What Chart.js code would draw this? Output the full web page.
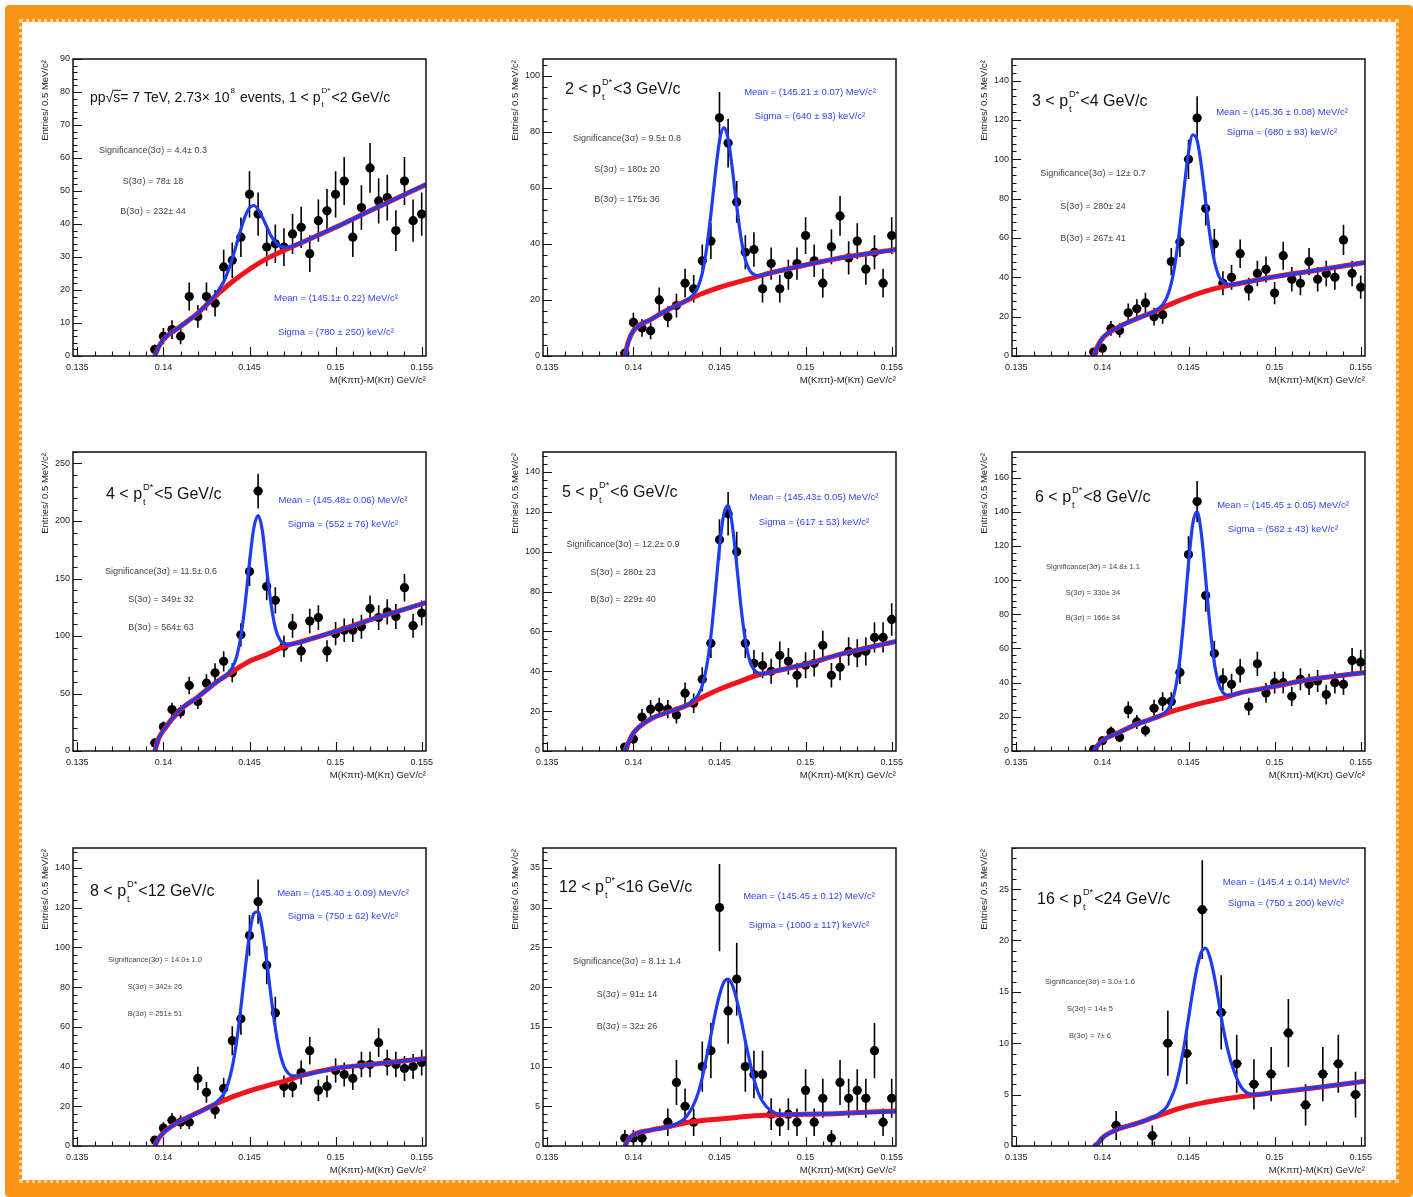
<!DOCTYPE html>
<html>
<head>
<meta charset="utf-8">
<title>D*+ signal in pT bins</title>
<script src="https://cdn.jsdelivr.net/npm/chart.js@4.4.1/dist/chart.umd.min.js"></script>
<style>
  body { margin: 0; background: #fff; }
  #page { position: relative; width: 1413px; height: 1197px; overflow: hidden; background: #fff; }
  .border { position: absolute; left: 5px; top: 5px; width: 1408px; height: 1192px; box-sizing: border-box;
            border: 17px solid #fb9515; border-radius: 4px; }
  .border::after { content: ''; position: absolute; left: -3px; top: -3px; right: -3px; bottom: -3px;
                   border: 3px dotted #fff; opacity: 0.55; }
  canvas { position: absolute; }
</style>
</head>
<body>
<div id="page"><div class="border"></div></div>
<script>
// bin centres, GeV/c^2
const binX = [0.1395, 0.1400, 0.1405, 0.1410, 0.1415, 0.1420, 0.1425, 0.1430, 0.1435, 0.1440, 0.1445, 0.1450,
              0.1455, 0.1460, 0.1465, 0.1470, 0.1475, 0.1480, 0.1485, 0.1490, 0.1495, 0.1500, 0.1505, 0.1510,
              0.1515, 0.1520, 0.1525, 0.1530, 0.1535, 0.1540, 0.1545, 0.1550];
const binX9 = [0.1408, 0.1429, 0.1438, 0.1449, 0.1458, 0.1469, 0.1478, 0.1488, 0.1498, 0.1508, 0.1518, 0.1528, 0.1537, 0.1547];

const fitX = [0.1395, 0.1397, 0.1400, 0.1410, 0.1420, 0.1430, 0.1435, 0.14375, 0.1440, 0.14425, 0.1445, 0.14475,
              0.1450, 0.14525, 0.1455, 0.14575, 0.1460, 0.14625, 0.1465, 0.14675, 0.1470, 0.14725, 0.1475,
              0.1480, 0.1485, 0.1490, 0.1500, 0.1520, 0.15525];
const bkgX = [0.1395, 0.1397, 0.1400, 0.1410, 0.1420, 0.1430, 0.1440, 0.1450, 0.1460, 0.1470, 0.1480, 0.1500, 0.1520, 0.15525];

const xTicks = [0.135, 0.14, 0.145, 0.15, 0.155];
const xTickLabels = ['0.135', '0.14', '0.145', '0.15', '0.155'];

const yTicks1 = [0, 10, 20, 30, 40, 50, 60, 70, 80, 90];
const yTicks2 = [0, 20, 40, 60, 80, 100];
const yTicks3 = [0, 20, 40, 60, 80, 100, 120, 140];
const yTicks4 = [0, 50, 100, 150, 200, 250];
const yTicks5 = [0, 20, 40, 60, 80, 100, 120, 140];
const yTicks6 = [0, 20, 40, 60, 80, 100, 120, 140, 160];
const yTicks7 = [0, 20, 40, 60, 80, 100, 120, 140];
const yTicks8 = [0, 5, 10, 15, 20, 25, 30, 35];
const yTicks9 = [0, 5, 10, 15, 20, 25];
const yMax = [90, 106, 151, 260, 150, 175, 150, 37.5, 29];

// entries per bin
const counts1 = [2, 6, 8, 6, 18, 12, 18, 16, 27, 29, 36, 49, 43, 33, 34, 33, 37, 39, 31, 41, 44, 49, 53, 36, 45, 57, 47, 48, 38, 53, 41, 43];
const counts2 = [1, 12, 10, 9, 20, 14, 18, 26, 24, 34, 41, 85, 76, 55, 37, 38, 24, 33, 24, 29, 33, 43, 34, 26, 39, 50, 35, 41, 31, 37, 26, 43];
const counts3 = [2, 4, 14, 13, 22, 24, 27, 20, 21, 48, 58, 100, 121, 75, 57, 37, 40, 52, 34, 42, 44, 32, 51, 39, 37, 48, 39, 42, 40, 59, 42, 35];
const counts4 = [7, 21, 36, 34, 57, 43, 59, 68, 78, 68, 101, 156, 226, 143, 131, 91, 109, 87, 113, 116, 87, 102, 105, 105, 108, 124, 116, 121, 117, 142, 109, 120];
const counts5 = [2, 6, 17, 21, 22, 21, 18, 29, 24, 36, 54, 106, 119, 100, 54, 44, 43, 40, 48, 45, 38, 43, 44, 53, 38, 42, 50, 49, 50, 57, 57, 66];
const counts6 = [1, 6, 11, 8, 24, 17, 12, 25, 29, 29, 46, 115, 146, 91, 57, 42, 39, 47, 26, 51, 34, 40, 40, 32, 42, 39, 41, 33, 40, 39, 53, 52];
const counts7 = [3, 9, 13, 12, 12, 34, 27, 18, 29, 53, 64, 106, 123, 91, 67, 30, 30, 37, 48, 28, 30, 38, 36, 34, 41, 41, 52, 42, 41, 39, 40, 42];
const counts8 = [1, 1, 1, null, null, 3, 8, 5, 3, 10, 12, 30, 17, 21, 10, 9, 9, 4, 3, 4, 3, 7, 3, 6, 1, 8, 6, 7, 6, 12, 3, 6];
const counts9 = [2, 1, 10, 9, 23, 13, 8, 6, 7, 11, 4, 7, 8, 5];

// total fit (blue), read at fitX
const fit1 = [0, 2.5, 5, 9, 13, 18.5, 22.5, 25.6, 29.5, 33.9, 38.4, 42.4, 44.9, 45.6, 44.4, 42, 39.2, 36.4, 34.6, 33.4, 33, 33, 33.4, 34.3, 35.5, 36.7, 39, 44, 52];
const fit2 = [0, 5, 9, 13, 16.5, 19.6, 22.0, 24.6, 29.6, 38.3, 50.6, 64.7, 76.7, 81.5, 77.6, 66.6, 53.5, 42.1, 34.4, 30.6, 29.1, 28.7, 28.9, 29.7, 30.4, 31.1, 32.5, 35, 38];
const fit3 = [0, 4.5, 9, 15, 19, 22.6, 26.1, 29.9, 36.9, 48.7, 65.8, 85.7, 103.5, 112.5, 109.6, 96.5, 78.3, 61, 48.3, 40.9, 37.7, 36.5, 36.3, 37, 37.8, 38.6, 40.3, 43, 47.5];
const fit4 = [0, 10, 18, 36, 47, 59, 64.2, 67.4, 72.5, 81.9, 99.7, 128.4, 164, 193.9, 204.8, 191.4, 158, 128, 107, 97, 93.6, 92.7, 93.1, 95, 97.3, 99.5, 104, 114, 129];
const fit5 = [0, 4, 9, 16, 19.5, 22.5, 25.4, 28, 32.9, 42.1, 57.6, 79, 102.2, 118.9, 123.1, 112.9, 93.3, 72.1, 55.6, 45.5, 40.8, 39.1, 38.8, 39.6, 40.6, 41.6, 43.5, 48.5, 55];
const fit6 = [0, 3, 6, 11, 15.7, 19.2, 21.5, 23.5, 28, 37, 54, 79.8, 109.6, 133.1, 139.9, 126.9, 100.7, 72.8, 51.7, 39.6, 34.2, 32.7, 32.7, 34, 35, 35.9, 37.8, 41.8, 46];
const fit7 = [0, 3.5, 6.7, 12.6, 16.8, 21.4, 26.1, 31.3, 39.8, 52.6, 69.8, 89.1, 106.4, 117, 117.9, 108.8, 93, 75.2, 59.3, 47.4, 40.1, 36.6, 35.3, 35.5, 36.3, 37.2, 39.1, 41, 44];
const fit8 = [0, 0.8, 1.4, 2, 2.4, 3.5, 5.2, 6.6, 8.6, 11.2, 13.9, 16.7, 19, 20.6, 21, 20.2, 18.4, 16, 13.2, 10.7, 8.4, 6.7, 5.6, 4.4, 4.0, 3.95, 4.0, 4.1, 4.35];
const fit9 = [0, 0.2, 0.8, 1.7, 2.2, 2.85, 3.4, 3.85, 4.7, 5.8, 7.55, 9.8, 12.4, 15.1, 17.4, 18.9, 19.25, 18.3, 16.5, 14.1, 11.6, 9.6, 8.0, 5.9, 5.1, 5.0, 5.2, 5.6, 6.3];

// background fit (red), read at bkgX
const bkg1 = [0, 2.5, 5, 9, 13, 18, 22.5, 26.3, 29.5, 32, 34.3, 39, 44, 52];
const bkg2 = [0, 5, 9, 13, 16.5, 19.5, 22.3, 24.5, 26.3, 28, 29.7, 32.5, 35, 38];
const bkg3 = [0, 4.5, 9, 15, 19, 22.5, 26.5, 30, 33, 35.3, 37, 40.3, 43, 47.5];
const bkg4 = [0, 10, 18, 36, 47, 59, 69, 78, 84, 91, 95, 104, 114, 129];
const bkg5 = [0, 4, 9, 16, 19.5, 22.5, 27, 31, 34.3, 37.5, 39.6, 43.5, 48.5, 55];
const bkg6 = [0, 3, 6, 11, 15.7, 19.2, 23, 26, 28.6, 31, 34, 37.8, 41.8, 46];
const bkg7 = [0, 3.5, 6.7, 12.6, 16.8, 21, 24.7, 27.8, 30.3, 32.5, 35.4, 39.1, 41, 44];
const bkg8 = [0, 0.8, 1.4, 2, 2.4, 2.9, 3.2, 3.4, 3.6, 3.8, 3.9, 4.0, 4.1, 4.4];
const bkg9 = [0, 0.2, 0.8, 1.7, 2.2, 2.8, 3.4, 3.9, 4.25, 4.55, 4.8, 5.2, 5.6, 6.3];

// text in each pad
const ptLow = ['1', '2', '3', '4', '5', '6', '8', '12', '16'];
const ptHigh = ['2', '3', '4', '5', '6', '8', '12', '16', '24'];
const meanTxt = ['145.1± 0.22', '145.21 ± 0.07', '145.36 ± 0.08', '145.48± 0.06', '145.43± 0.05',
                 '145.45 ± 0.05', '145.40 ± 0.09', '145.45 ± 0.12', '145.4 ± 0.14'];
const sigmaTxt = ['780 ± 250', '640 ± 93', '680 ± 93', '552 ± 76', '617 ± 53', '582 ± 43', '750 ± 62', '1000 ± 117', '750 ± 200'];
const signifTxt = ['4.4± 0.3', '9.5± 0.8', '12± 0.7', '11.5± 0.6', '12.2± 0.9', '14.8± 1.1', '14.0± 1.0', '8.1± 1.4', '3.0± 1.6'];
const sigTxt = ['78± 18', '180± 20', '280± 24', '349± 32', '280± 23', '330± 34', '342± 26', '91± 14', '14± 5'];
const bkgTxt = ['232± 44', '175± 36', '267± 41', '564± 63', '229± 40', '166± 34', '251± 51', '32± 26', '7± 6'];

// ---- layout (pixels) ----
const FONT = '"Liberation Sans", Arial, sans-serif';
const colLeft = [73, 543, 1012];
const rowTop = [59, 452, 848];
const rowH = [297, 299, 298];
const padW = 353;
// offsets inside the frame: [x, y]
const titlePos = [[17, 39], [22, 31], [20, 43], [33, 43], [19, 41], [23, 46], [17, 44], [16, 40], [25, 52]];
const titleSize = [14, 16, 16, 16, 16, 16, 16, 16, 16];
const statsPos = [[80, 92, 30.5], [84, 80, 30.5], [81, 115, 32.5], [88, 120, 28], [80, 93, 27.5],
                  [81, 115, 25.5], [82, 112, 27], [84, 114, 32.5], [78, 134, 27]];
const statsSize = [9, 9, 9, 9, 9, 7.5, 7.5, 9, 7.5];
const bluePos = [[263, 239, 34], [267, 33, 24], [270, 53, 20], [270, 48, 24], [271, 45, 25],
                 [271, 53, 24], [270, 45, 23], [266, 48, 29], [274, 34, 21]];

const panels = [
  { bins: binX, half: 0.00025, counts: counts1, fit: fit1, bkg: bkg1, yTicks: yTicks1 },
  { bins: binX, half: 0.00025, counts: counts2, fit: fit2, bkg: bkg2, yTicks: yTicks2 },
  { bins: binX, half: 0.00025, counts: counts3, fit: fit3, bkg: bkg3, yTicks: yTicks3 },
  { bins: binX, half: 0.00025, counts: counts4, fit: fit4, bkg: bkg4, yTicks: yTicks4 },
  { bins: binX, half: 0.00025, counts: counts5, fit: fit5, bkg: bkg5, yTicks: yTicks5 },
  { bins: binX, half: 0.00025, counts: counts6, fit: fit6, bkg: bkg6, yTicks: yTicks6 },
  { bins: binX, half: 0.00025, counts: counts7, fit: fit7, bkg: bkg7, yTicks: yTicks7 },
  { bins: binX, half: 0.00025, counts: counts8, fit: fit8, bkg: bkg8, yTicks: yTicks8 },
  { bins: binX9, half: 0.0003, counts: counts9, fit: fit9, bkg: bkg9, yTicks: yTicks9 }
];

Chart.defaults.font.family = FONT;

// text with optional sub/superscript after each piece
function drawRich(ctx, x, y, parts, size, color) {
  ctx.fillStyle = color;
  ctx.strokeStyle = color;
  ctx.textAlign = 'left';
  ctx.textBaseline = 'middle';
  let cx = x;
  parts.forEach(p => {
    ctx.font = size + 'px ' + FONT;
    ctx.fillText(p.t, cx, y);
    const w = ctx.measureText(p.t).width;
    if (p.over) {
      ctx.lineWidth = 1;
      ctx.beginPath();
      ctx.moveTo(cx - 1, y - size * 0.55);
      ctx.lineTo(cx + w + 1, y - size * 0.55);
      ctx.stroke();
    }
    cx += w;
    let sw = 0;
    ctx.font = (size * 0.58) + 'px ' + FONT;
    if (p.sup) {
      ctx.fillText(p.sup, cx + 1, y - size * 0.5);
      sw = ctx.measureText(p.sup).width;
    }
    if (p.sub) {
      ctx.fillText(p.sub, cx + 1, y + size * 0.45);
      sw = Math.max(sw, ctx.measureText(p.sub).width);
    }
    if (sw) cx += sw + 2;
  });
}

function rootDecor(i) {
  const p = panels[i];
  return {
    id: 'rootDecor' + i,
    beforeDatasetsDraw(chart) {
      const { ctx, chartArea: a, scales: { x, y } } = chart;
      ctx.save();
      ctx.beginPath();
      ctx.rect(a.left, a.top, a.right - a.left, a.bottom - a.top);
      ctx.clip();
      ctx.strokeStyle = '#000';
      ctx.lineWidth = 1.6;
      ctx.beginPath();
      chart.data.datasets[0].data.forEach(d => {
        if (d.y == null) return;
        const e = Math.sqrt(d.y);
        const px = x.getPixelForValue(d.x);
        const py = y.getPixelForValue(d.y);
        ctx.moveTo(px, y.getPixelForValue(d.y - e));
        ctx.lineTo(px, y.getPixelForValue(d.y + e));
        ctx.moveTo(x.getPixelForValue(d.x - p.half), py);
        ctx.lineTo(x.getPixelForValue(d.x + p.half), py);
      });
      ctx.stroke();
      ctx.restore();
    },
    afterDraw(chart) {
      const { ctx, chartArea: a, scales: { x, y } } = chart;
      ctx.save();
      // frame and inward ticks
      ctx.strokeStyle = '#111';
      ctx.lineWidth = 1.5;
      ctx.strokeRect(a.left, a.top, a.right - a.left, a.bottom - a.top);
      ctx.lineWidth = 1.1;
      ctx.beginPath();
      const step = p.yTicks[1] - p.yTicks[0];
      const yTop = y.max;
      for (let k = 0; k * step / 5 <= yTop + 1e-9; k++) {
        const py = Math.round(y.getPixelForValue(k * step / 5)) + 0.5;
        ctx.moveTo(a.left, py);
        ctx.lineTo(a.left + (k % 5 === 0 ? 9 : 4.5), py);
      }
      for (let k = 0; k <= 20; k++) {
        const px = Math.round(x.getPixelForValue(0.135 + k * 0.001)) + 0.5;
        ctx.moveTo(px, a.bottom);
        ctx.lineTo(px, a.bottom - (k % 5 === 0 ? 9 : 4.5));
      }
      ctx.stroke();

      // axis titles
      ctx.fillStyle = '#222';
      ctx.font = '9.5px ' + FONT;
      ctx.textAlign = 'right';
      ctx.textBaseline = 'middle';
      ctx.fillText('M(K\u03c0\u03c0)-M(K\u03c0) GeV/c\u00b2', a.right, a.bottom + 24);
      ctx.save();
      ctx.translate(a.left - 28, a.top + 1);
      ctx.rotate(-Math.PI / 2);
      ctx.fillText('Entries/ 0.5 MeV/c\u00b2', 0, 0);
      ctx.restore();

      // pT bin title
      const tp = titlePos[i];
      let parts;
      if (i === 0) {
        parts = [{ t: 'pp\u221a' }, { t: 's', over: true }, { t: '= 7 TeV, 2.73\u00d7 10', sup: '8' },
                 { t: ' events, 1 < p', sub: 't', sup: 'D*' }, { t: '<2 GeV/c' }];
      } else {
        parts = [{ t: ptLow[i] + ' < p', sub: 't', sup: 'D*' }, { t: '<' + ptHigh[i] + ' GeV/c' }];
      }
      drawRich(ctx, a.left + tp[0], a.top + tp[1], parts, titleSize[i], '#111');

      // significance block
      const sp = statsPos[i];
      ctx.fillStyle = '#444';
      ctx.font = statsSize[i] + 'px ' + FONT;
      ctx.textAlign = 'center';
      ctx.textBaseline = 'middle';
      ctx.fillText('Significance(3\u03c3) = ' + signifTxt[i], a.left + sp[0], a.top + sp[1]);
      ctx.fillText('S(3\u03c3) = ' + sigTxt[i], a.left + sp[0], a.top + sp[1] + sp[2]);
      ctx.fillText('B(3\u03c3) = ' + bkgTxt[i], a.left + sp[0], a.top + sp[1] + 2 * sp[2]);

      // fit results
      const bp = bluePos[i];
      ctx.fillStyle = '#2f45ee';
      ctx.font = '9.5px ' + FONT;
      ctx.fillText('Mean = (' + meanTxt[i] + ') MeV/c\u00b2', a.left + bp[0], a.top + bp[1]);
      ctx.fillText('Sigma = (' + sigmaTxt[i] + ') keV/c\u00b2', a.left + bp[0], a.top + bp[1] + bp[2]);
      ctx.restore();
    }
  };
}

const page = document.getElementById('page');

panels.forEach((p, i) => {
  const col = i % 3, row = Math.floor(i / 3);
  const cv = document.createElement('canvas');
  cv.width = padW + 60;
  cv.height = rowH[row] + 50;
  cv.style.left = (colLeft[col] - 50) + 'px';
  cv.style.top = (rowTop[row] - 10) + 'px';
  page.appendChild(cv);

  const pts = p.bins.map((bx, k) => ({ x: bx, y: p.counts[k] }));
  const fitPts = fitX.map((fx, k) => ({ x: fx, y: p.fit[k] }));
  const bkgPts = bkgX.map((bx, k) => ({ x: bx, y: p.bkg[k] }));

  new Chart(cv, {
    type: 'scatter',
    data: {
      datasets: [
        { data: pts, order: 3, pointRadius: 4.6, pointBackgroundColor: '#000', pointBorderWidth: 0, showLine: false },
        { data: bkgPts, order: 2, showLine: true, borderColor: '#f2141c', borderWidth: 5, pointRadius: 0,
          cubicInterpolationMode: 'monotone' },
        { data: fitPts, order: 1, showLine: true, borderColor: '#1f3cf2', borderWidth: 3.2, pointRadius: 0,
          cubicInterpolationMode: 'monotone' }
      ]
    },
    options: {
      responsive: false,
      animation: false,
      devicePixelRatio: 1,
      events: [],
      layout: { padding: { top: 10, right: 10, left: 0, bottom: 0 } },
      plugins: { legend: { display: false }, tooltip: { enabled: false } },
      scales: {
        x: {
          type: 'linear',
          min: 0.13475,
          max: 0.15525,
          grid: { display: false, drawTicks: false },
          border: { display: false },
          afterBuildTicks: s => { s.ticks = xTicks.map(v => ({ value: v })); },
          afterFit: s => { s.height = 40; s.paddingLeft = 0; s.paddingRight = 0; },
          ticks: {
            autoSkip: false,
            maxRotation: 0,
            padding: 6,
            color: '#222',
            font: { size: 9 },
            callback: v => xTickLabels[xTicks.indexOf(v)]
          }
        },
        y: {
          min: 0,
          max: yMax[i],
          grid: { display: false, drawTicks: false },
          border: { display: false },
          afterBuildTicks: s => { s.ticks = p.yTicks.map(v => ({ value: v })); },
          afterFit: s => { s.width = 50; s.paddingTop = 0; s.paddingBottom = 0; },
          ticks: { padding: 3, color: '#222', font: { size: 9 } }
        }
      }
    },
    plugins: [rootDecor(i)]
  });
});
</script>
</body>
</html>
